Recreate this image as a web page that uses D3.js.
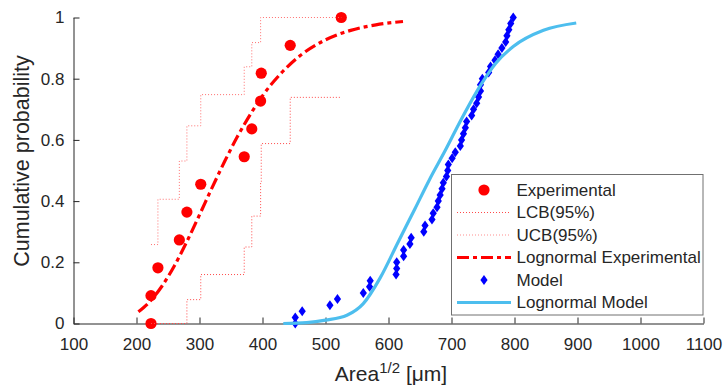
<!DOCTYPE html>
<html><head><meta charset="utf-8">
<script src="https://cdn.jsdelivr.net/npm/d3@7"></script>
<style>html,body{margin:0;padding:0;background:#fff;} svg{display:block;font-family:"Liberation Sans",Arial,Helvetica,sans-serif;}</style>
</head><body><svg id="chart" width="724" height="390"></svg>
<script>
// ---- data ----
const xTicks = [100, 200, 300, 400, 500, 600, 700, 800, 900, 1000, 1100];
const yTicks = [0, 0.2, 0.4, 0.6, 0.8, 1];
const yTickLabels = ["0", "0.2", "0.4", "0.6", "0.8", "1"];

const expX = [223, 223, 234, 268, 280, 302, 371, 383, 397, 398, 444, 525];
const expP = [0, 0.091, 0.182, 0.273, 0.364, 0.455, 0.545, 0.636, 0.727, 0.818, 0.909, 1];

const lcbX = [223, 234, 268, 280, 302, 371, 383, 397, 398, 444, 525];
const lcbP = [0, 0, 0, 0.078, 0.16, 0.25, 0.351, 0.464, 0.588, 0.739, 0.739];
const ucbX = [223, 234, 268, 280, 302, 371, 383, 397, 398, 444, 525];
const ucbP = [0.258, 0.406, 0.531, 0.646, 0.748, 0.839, 0.918, 1, 1, 1, 1];

const expFitX = [203, 220, 240, 260, 280, 300, 320, 340, 360, 380, 400, 430, 460, 500, 540, 580, 623];
const expFitP = [0.038, 0.069, 0.121, 0.188, 0.268, 0.355, 0.444, 0.53, 0.61, 0.681, 0.744, 0.819, 0.876, 0.927, 0.958, 0.976, 0.987];

const modelX = [452, 452, 463, 507, 519, 560, 570, 571, 612, 613, 613, 624, 624, 634, 636, 656, 658, 669, 671, 677,
                679, 682, 685, 687, 692, 694, 695, 701, 706, 714, 716, 719, 722, 724, 732, 735, 740, 743, 746, 746,
                749, 759, 762, 769, 774, 780, 786, 788, 791, 794, 798];
const modelP = [0, 0.02, 0.04, 0.06, 0.08, 0.1, 0.12, 0.14, 0.16, 0.18, 0.2, 0.22, 0.24, 0.26, 0.28, 0.3, 0.32, 0.34, 0.36, 0.38,
                0.4, 0.42, 0.44, 0.46, 0.48, 0.5, 0.52, 0.54, 0.56, 0.58, 0.6, 0.62, 0.64, 0.66, 0.68, 0.7, 0.72, 0.74, 0.76, 0.78,
                0.8, 0.82, 0.84, 0.86, 0.88, 0.9, 0.92, 0.94, 0.96, 0.98, 1];

const modelFitX = [433, 470, 500, 534, 560, 587, 615, 642, 665, 690, 715, 745, 770, 798, 846, 898];
const modelFitP = [0, 0.003, 0.011, 0.027, 0.065, 0.15, 0.265, 0.375, 0.47, 0.565, 0.665, 0.775, 0.85, 0.905, 0.958, 0.982];

const legendLabels = ["Experimental", "LCB(95%)", "UCB(95%)", "Lognormal Experimental", "Model", "Lognormal Model"];

// ---- drawing ----
const svg = d3.select("#chart");
const axisColor = "#262626";
const x = d3.scaleLinear().domain([100, 1100]).range([73.5, 703.5]);
const y = d3.scaleLinear().domain([0, 1]).range([323.5, 17.5]);

const zip = (a, b) => a.map((v, i) => [v, b[i]]);

// axes
const gx = svg.append("g").attr("transform", `translate(0,${y(0)})`)
  .call(d3.axisBottom(x).tickValues(xTicks).tickFormat(d3.format("d")).tickSize(-6).tickSizeOuter(0).tickPadding(14));
const gy = svg.append("g").attr("transform", `translate(${x(100)},0)`)
  .call(d3.axisLeft(y).tickValues(yTicks).tickFormat((d, i) => yTickLabels[i]).tickSize(-6).tickSizeOuter(0).tickPadding(9));
[gx, gy].forEach(g => {
  g.selectAll("path,line").attr("stroke", axisColor);
  g.selectAll("text").attr("fill", axisColor).style("font-size", "17px").style("font-family", '"Liberation Sans",Arial,sans-serif');
});

// axis labels
const xl = svg.append("text").attr("x", 391).attr("y", 381).attr("text-anchor", "middle")
  .attr("fill", axisColor).style("font-size", "21px");
xl.append("tspan").text("Area");
xl.append("tspan").attr("dy", -8).style("font-size", "15px").text("1/2");
xl.append("tspan").attr("dy", 8).text(" [\u03bcm]");

svg.append("text").attr("transform", "translate(29,161) rotate(-90)").attr("text-anchor", "middle")
  .attr("fill", axisColor).style("font-size", "21.5px").text("Cumulative probability");

const stepLine = d3.line().x(d => x(d[0])).y(d => y(d[1])).curve(d3.curveStepAfter);
const smoothLine = d3.line().x(d => x(d[0])).y(d => y(d[1])).curve(d3.curveMonotoneX);

const diamond = "M0,-5L3.6,0L0,5L-3.6,0Z";

// experimental points
svg.append("g").selectAll("circle").data(zip(expX, expP)).join("circle")
  .attr("cx", d => x(d[0])).attr("cy", d => y(d[1])).attr("r", 5.6).attr("fill", "#ff0000");

// confidence bounds
svg.append("path").datum(zip(lcbX, lcbP)).attr("d", stepLine)
  .attr("fill", "none").attr("stroke", "#ff4a4a").attr("stroke-width", 1).attr("stroke-dasharray", "1,2");
svg.append("path").datum(zip(ucbX, ucbP)).attr("d", stepLine)
  .attr("fill", "none").attr("stroke", "#ff6f6f").attr("stroke-width", 1).attr("stroke-dasharray", "1,2");

// lognormal experimental
svg.append("path").datum(zip(expFitX, expFitP)).attr("d", smoothLine)
  .attr("fill", "none").attr("stroke", "#ff0000").attr("stroke-width", 3.2).attr("stroke-dasharray", "12,4,4,4");

// model points
svg.append("g").selectAll("path").data(zip(modelX, modelP)).join("path")
  .attr("transform", d => `translate(${x(d[0])},${y(d[1])})`).attr("d", diamond).attr("fill", "#0000ff");

// lognormal model
svg.append("path").datum(zip(modelFitX, modelFitP)).attr("d", smoothLine)
  .attr("fill", "none").attr("stroke", "#4dbeee").attr("stroke-width", 3.2);

// legend
const lg = svg.append("g");
lg.append("rect").attr("x", 451.5).attr("y", 174.5).attr("width", 251.5).attr("height", 140.5)
  .attr("fill", "#fff").attr("stroke", "#707070").attr("stroke-width", 1);
const rowY = [190, 212.5, 235, 257.5, 280, 302.5];
const sx0 = 457, sx1 = 511, sm = 484;
lg.append("circle").attr("cx", sm).attr("cy", rowY[0]).attr("r", 5.6).attr("fill", "#ff0000");
lg.append("line").attr("x1", sx0).attr("x2", sx1).attr("y1", rowY[1]).attr("y2", rowY[1])
  .attr("stroke", "#ff4a4a").attr("stroke-dasharray", "1,2");
lg.append("line").attr("x1", sx0).attr("x2", sx1).attr("y1", rowY[2]).attr("y2", rowY[2])
  .attr("stroke", "#ff8f8f").attr("stroke-dasharray", "1,2");
lg.append("line").attr("x1", sx0).attr("x2", sx1).attr("y1", rowY[3]).attr("y2", rowY[3])
  .attr("stroke", "#ff0000").attr("stroke-width", 3.2).attr("stroke-dasharray", "12,4,4,4");
lg.append("path").attr("transform", `translate(${sm},${rowY[4]})`).attr("d", diamond).attr("fill", "#0000ff");
lg.append("line").attr("x1", sx0).attr("x2", sx1).attr("y1", rowY[5]).attr("y2", rowY[5])
  .attr("stroke", "#4dbeee").attr("stroke-width", 3.2);
lg.selectAll("text.lab").data(legendLabels).join("text").attr("class", "lab")
  .attr("x", 516.5).attr("y", (d, i) => rowY[i]).attr("dy", "0.35em")
  .attr("fill", axisColor).style("font-size", "17px").text(d => d);
</script>
</body></html>
